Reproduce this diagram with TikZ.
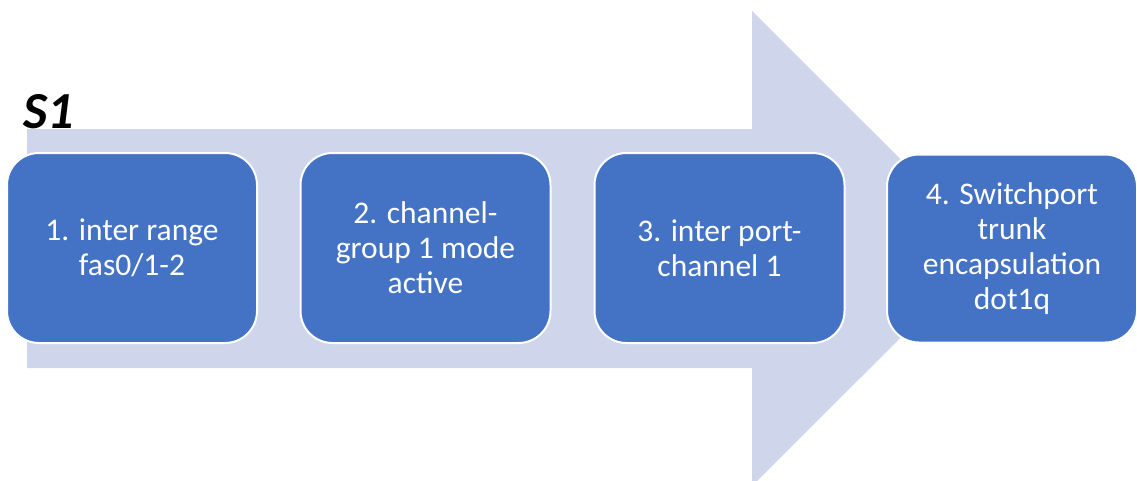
\documentclass[tikz,border=0pt]{standalone}
\usepackage{fontspec}
\setmainfont{Carlito}
\definecolor{arrowfill}{HTML}{CFD5EA}
\definecolor{stepblue}{HTML}{4472C4}
\tikzset{
  stepbox/.style={draw=white, line width=2pt, fill=stepblue, rounded corners=32pt,
    minimum width=250pt, minimum height=190pt, text=white, align=center,
    font=\fontsize{31.5}{35}\selectfont, inner sep=0pt},
  tag/.style={font=\fontsize{52}{60}\selectfont\bfseries\itshape, inner sep=0pt, anchor=base west}
}
\begin{document}
\begin{tikzpicture}[x=1pt,y=-1pt]
  \useasboundingbox (0,0) rectangle (1137,480);
  \clip (0,0) rectangle (1137,480);
  % broad process arrow behind the steps
  \fill[arrowfill] (27,129) -- (752,129) -- (752,11) -- (990,248.5) -- (752,486)
    -- (752,368) -- (27,368) -- cycle;
  % switch label
  \node[tag] (s1) at (23,128) {S1};
  % configuration steps
  \node[stepbox] (b1) at (132,248) {1. inter range\\fas0/1-2};
  \node[stepbox] (b2) at (425.5,248) {2. channel-\\group 1 mode\\active};
  \node[stepbox] (b3) at (719.5,248) {3. inter port-\\channel 1};
  \node[stepbox, minimum height=188pt] (b4) at (1012,248.5) {4. Switchport\\trunk\\encapsulation\\dot1q};
\end{tikzpicture}
\end{document}
